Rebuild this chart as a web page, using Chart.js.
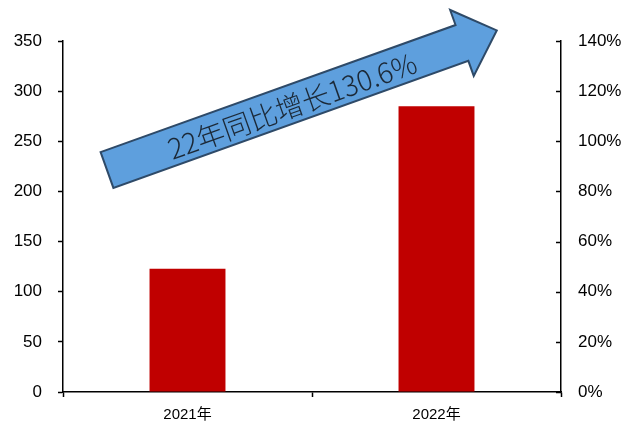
<!DOCTYPE html>
<html>
<head>
<meta charset="utf-8">
<script src="https://cdn.jsdelivr.net/npm/chart.js@4"></script>
<style>
    html, body { margin: 0; padding: 0; background: #ffffff; }
    #box { width: 625px; height: 421px; }
</style>
</head>
<body>
<div id="box"><canvas id="grafico"></canvas></div>
<script>
// dados
const anos = ['2021年', '2022年'];
const valores = [123, 285];
const ticksEsquerda = [0, 50, 100, 150, 200, 250, 300, 350];
const ticksDireita = [0, 20, 40, 60, 80, 100, 120, 140];
const textoSeta = '22年同比增长130.6%';

// seta azul + ticks internos do eixo direito
const setaPlugin = {
    id: 'seta',
    afterDraw(chart) {
        const ctx = chart.ctx;
        const area = chart.chartArea;
        const dir = chart.scales.yDir;

        // ticks do eixo direito apontando para dentro
        ctx.save();
        ctx.strokeStyle = '#000000';
        ctx.lineWidth = 1.5;
        ticksDireita.forEach(function (t) {
            const y = Math.round(dir.getPixelForValue(t)) + 0.5;
            ctx.beginPath();
            ctx.moveTo(area.right - 5, y);
            ctx.lineTo(area.right, y);
            ctx.stroke();
        });
        ctx.restore();

        // seta
        ctx.save();
        ctx.translate(107, 170);
        ctx.rotate(-19.7 * Math.PI / 180);
        ctx.beginPath();
        ctx.moveTo(0, -19);
        ctx.lineTo(377, -19);
        ctx.lineTo(377, -35);
        ctx.lineTo(414, 0);
        ctx.lineTo(377, 35);
        ctx.lineTo(377, 19);
        ctx.lineTo(0, 19);
        ctx.closePath();
        ctx.fillStyle = '#5E9FDD';
        ctx.fill();
        ctx.lineWidth = 2;
        ctx.strokeStyle = '#2E4A68';
        ctx.stroke();

        ctx.fillStyle = '#1B2836';
        ctx.font = '300 28px "Noto Sans CJK SC", sans-serif';
        ctx.textAlign = 'center';
        ctx.textBaseline = 'middle';
        ctx.fillText(textoSeta, 196, 2);
        ctx.restore();
    }
};

const ctx = document.getElementById('grafico');
new Chart(ctx, {
    type: 'bar',
    data: {
        labels: anos,
        datasets: [{
            data: valores,
            backgroundColor: '#C00000',
            borderWidth: 0,
            barPercentage: 0.61,
            categoryPercentage: 0.5,
            yAxisID: 'y'
        }]
    },
    options: {
        responsive: true,
        maintainAspectRatio: false,
        animation: false,
        devicePixelRatio: 1,
        layout: {
            padding: { top: 41, left: 0, right: 0, bottom: 0 }
        },
        plugins: {
            legend: { display: false },
            tooltip: { enabled: false }
        },
        scales: {
            x: {
                afterFit: function (scale) { scale.height = 29; },
                grid: {
                    drawOnChartArea: false,
                    drawTicks: true,
                    tickLength: 5,
                    tickColor: '#000000',
                    tickWidth: 1.5,
                    offset: true
                },
                border: { color: '#000000', width: 1.5 },
                ticks: {
                    color: '#000000',
                    padding: 9,
                    font: { size: 15, family: 'Liberation Sans, "Noto Sans CJK SC"' }
                }
            },
            y: {
                position: 'left',
                min: 0,
                max: 350,
                afterFit: function (scale) { scale.width = 63; },
                afterBuildTicks: function (scale) {
                    scale.ticks = ticksEsquerda.map(function (v) { return { value: v }; });
                },
                grid: {
                    drawOnChartArea: false,
                    drawTicks: true,
                    tickLength: 5,
                    tickColor: '#000000',
                    tickWidth: 1.5
                },
                border: { color: '#000000', width: 1.5 },
                ticks: {
                    color: '#000000',
                    padding: 16,
                    font: { size: 17, family: 'Liberation Sans' }
                }
            },
            yDir: {
                position: 'right',
                min: 0,
                max: 140,
                afterFit: function (scale) { scale.width = 64; },
                afterBuildTicks: function (scale) {
                    scale.ticks = ticksDireita.map(function (v) { return { value: v }; });
                },
                grid: {
                    drawOnChartArea: false,
                    drawTicks: false
                },
                border: { color: '#000000', width: 1.5 },
                ticks: {
                    color: '#000000',
                    padding: 17,
                    font: { size: 17, family: 'Liberation Sans' },
                    callback: function (v) { return v + '%'; }
                }
            }
        }
    },
    plugins: [setaPlugin]
});
</script>
</body>
</html>
